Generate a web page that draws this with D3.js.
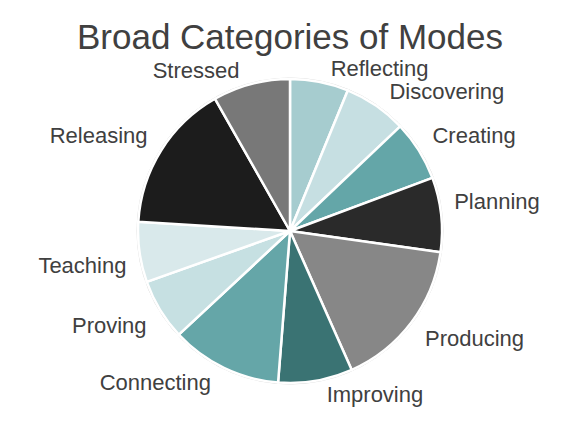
<!DOCTYPE html>
<meta charset="utf-8">
<head>
<style>
body { margin: 0; background: #fff; }
text { font-family: "Liberation Sans", Arial, sans-serif; fill: #404040; }
</style>
</head>
<body>
<script src="https://d3js.org/d3.v7.min.js"></script>
<script>

// slices clockwise from 12 o'clock, share in percent
var categories = ["Reflecting", "Discovering", "Creating", "Planning", "Producing",
                  "Improving", "Connecting", "Proving", "Teaching", "Releasing", "Stressed"];
var shares = [6.2, 6.7, 6.4, 7.9, 16.1, 7.9, 11.8, 6.5, 6.4, 15.8, 8.2];
var sliceColors = ["#a6cccf", "#c6dfe2", "#64a6a8", "#2a2a2a", "#878787",
                   "#3a7373", "#65a6a8", "#c6e0e2", "#d9e9eb", "#1c1c1c", "#787878"];

var width = 574, height = 437;
var cx = 290, cy = 231, radius = 152;

var svg = d3.select("body").append("svg")
    .attr("width", width)
    .attr("height", height);

// title
svg.append("text")
    .attr("x", 290)
    .attr("y", 49)
    .attr("text-anchor", "middle")
    .style("font-size", "35px")
    .text("Broad Categories of Modes");

var data = categories.map(function(c, i) { return {name: c, value: shares[i], color: sliceColors[i]}; });

var pie = d3.pie().sort(null).value(function(d) { return d.value; });
var arc = d3.arc().innerRadius(0).outerRadius(radius);

var g = svg.append("g").attr("transform", "translate(" + cx + "," + cy + ")");

// faint outline of the pie
g.append("circle")
    .attr("r", radius + 1)
    .attr("fill", "none")
    .attr("stroke", "#d8d8d8")
    .attr("stroke-width", 1);

var arcs = pie(data);

g.selectAll("path")
    .data(arcs)
  .enter().append("path")
    .attr("d", arc)
    .attr("fill", function(d) { return d.data.color; })
    .attr("stroke", "#fff")
    .attr("stroke-width", 2.5)
    .attr("stroke-linejoin", "round");

// labels: inner edge sits on a ring just outside the pie,
// left side labels end there, right side labels start there
var labelR = radius + 13;
g.selectAll("text.lbl")
    .data(arcs)
  .enter().append("text")
    .attr("class", "lbl")
    .each(function(d) {
      var mid = (d.startAngle + d.endAngle) / 2;
      var s = Math.sin(mid), c = Math.cos(mid);
      var sx = s >= 0 ? 1 : -1, sy = c >= 0 ? 1 : -1;
      d.lx = labelR * s + sx * 9 * c * c;
      d.ly = -labelR * c - sy * 12 * s * s;
      d.anchor = s >= 0 ? "start" : "end";
    })
    .attr("x", function(d) { return d.lx; })
    .attr("y", function(d) { return d.ly; })
    .attr("dy", "0.35em")
    .attr("text-anchor", function(d) { return d.anchor; })
    .style("font-size", "22px")
    .text(function(d) { return d.data.name; });

</script>
</body>
